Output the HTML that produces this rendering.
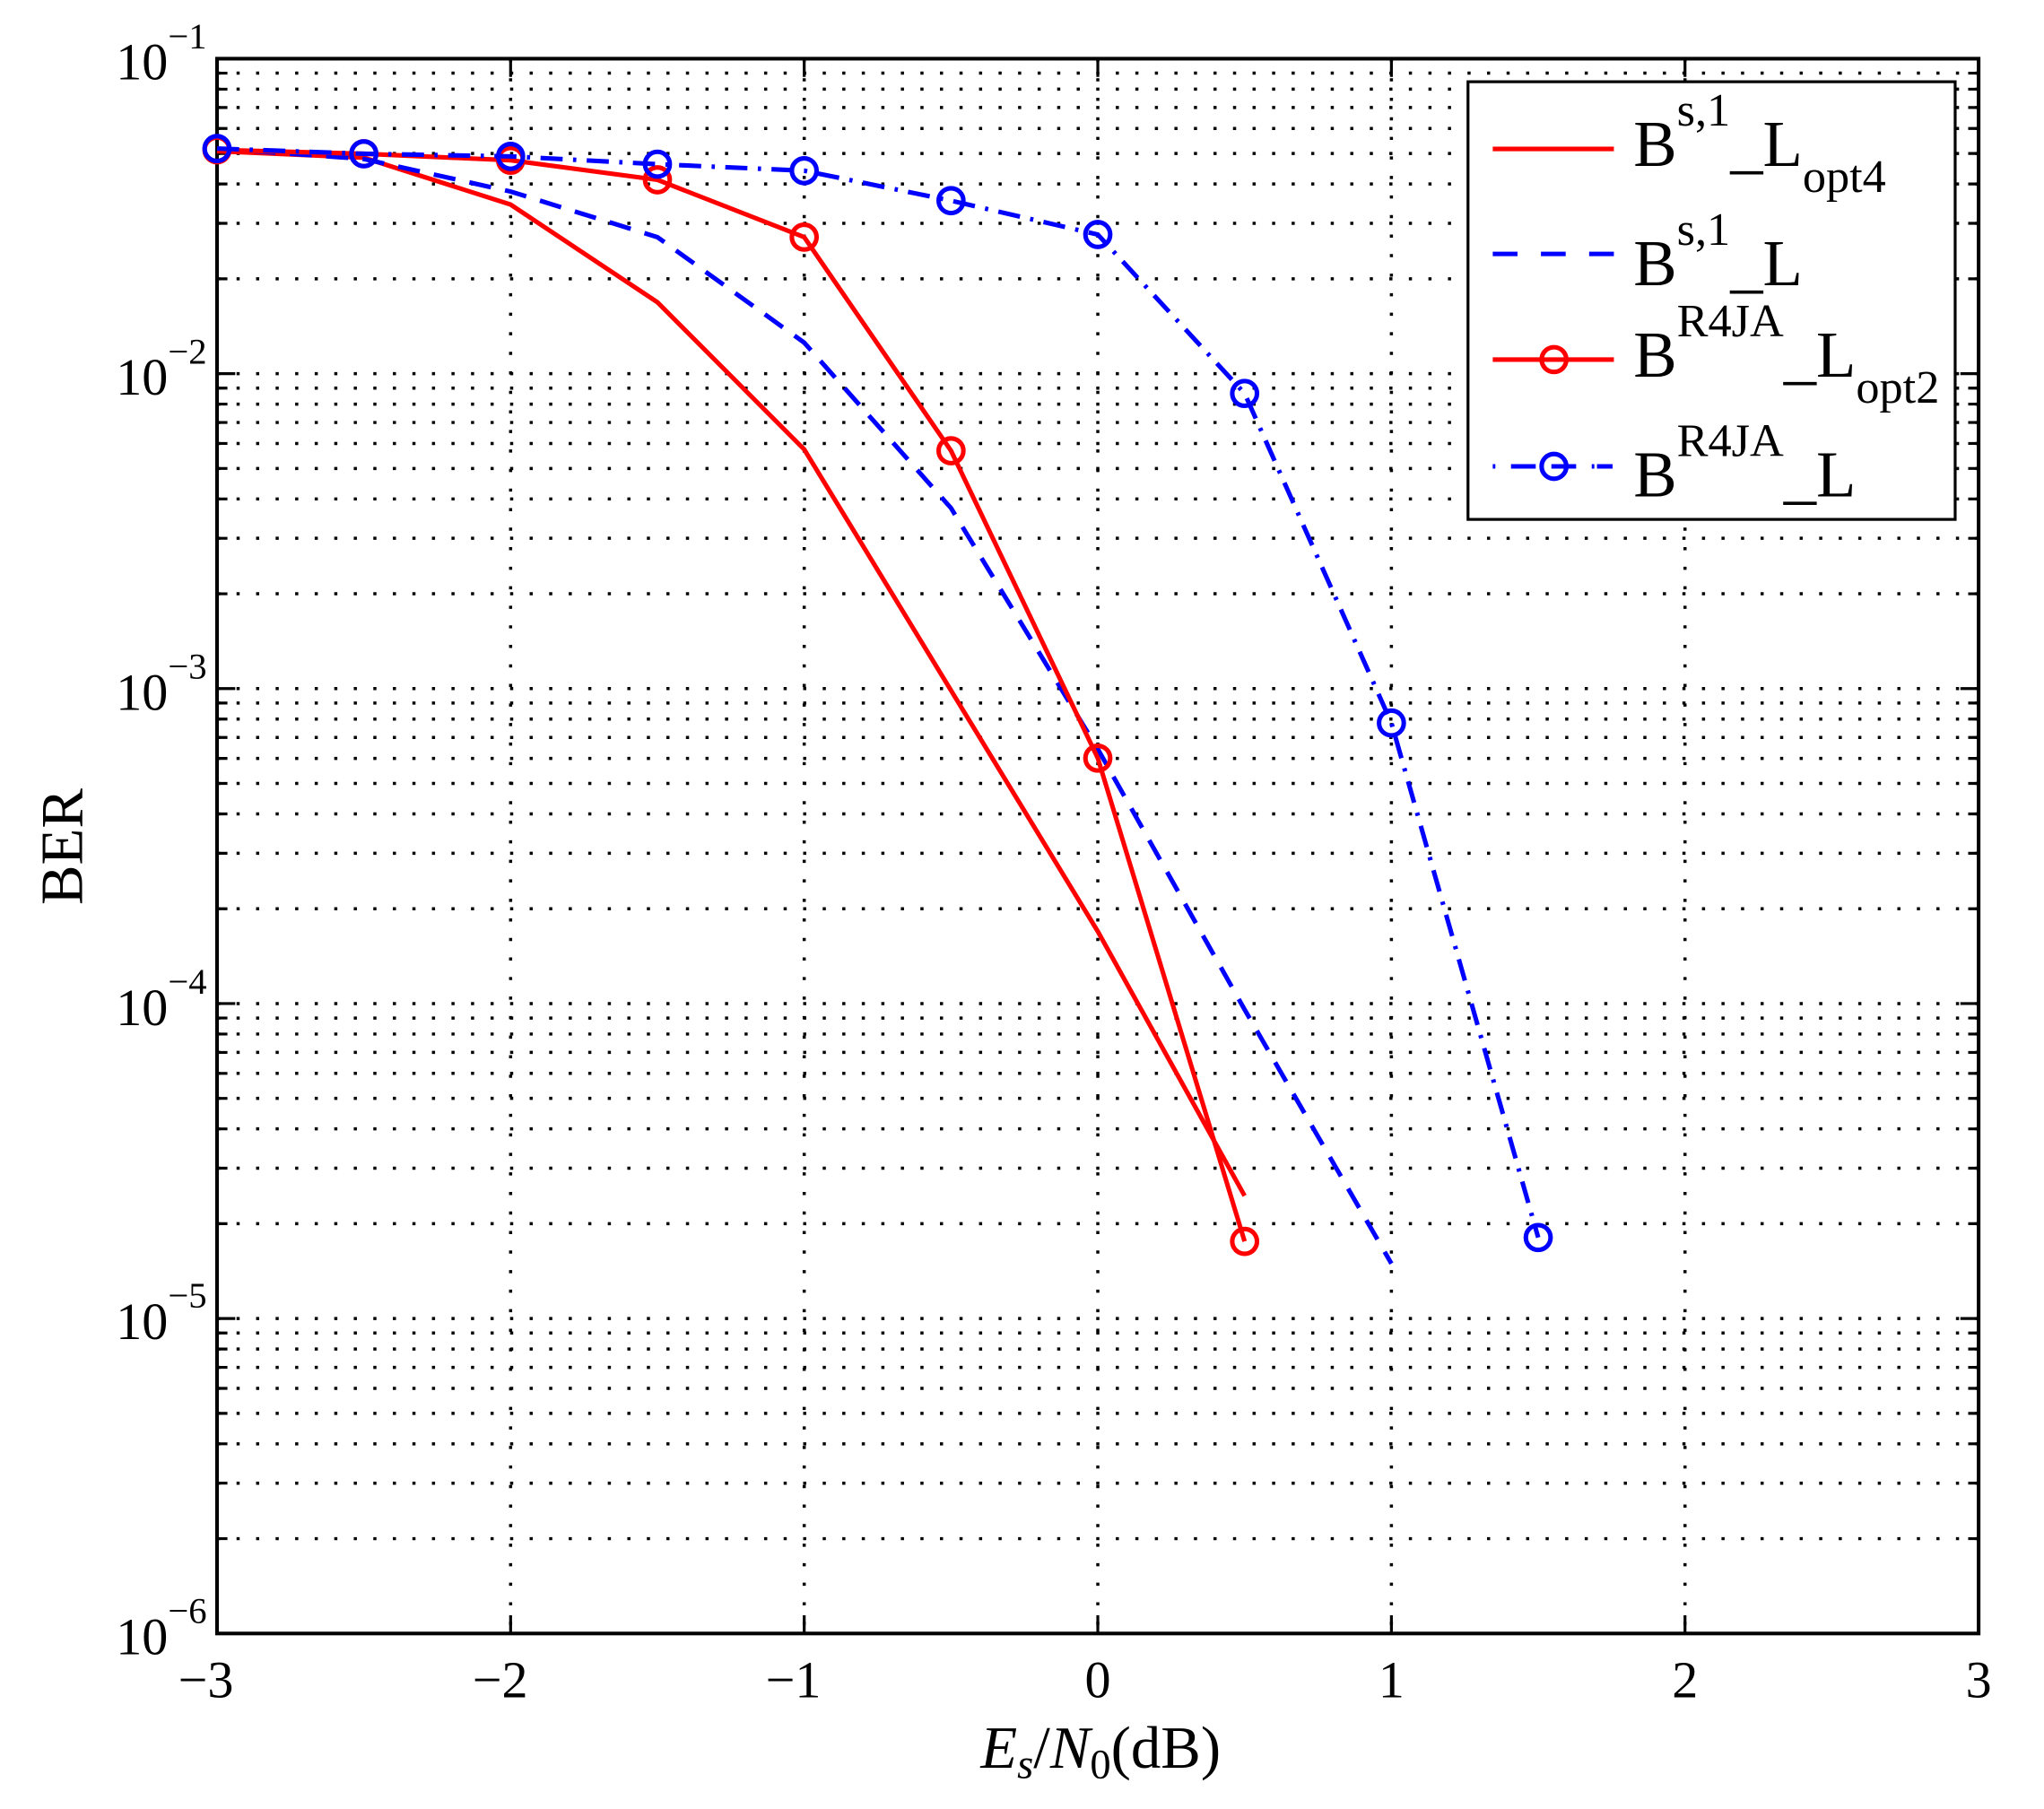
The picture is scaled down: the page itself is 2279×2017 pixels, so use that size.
<!DOCTYPE html>
<html><head><meta charset="utf-8"><style>html,body{margin:0;padding:0;background:#fff}svg{display:block}</style></head>
<body>
<svg width="2279" height="2017" viewBox="0 0 1569.2 1388.7" xmlns="http://www.w3.org/2000/svg" font-family="Liberation Serif, serif">
<rect width="1569.2" height="1388.7" fill="#fff"/>
<defs>
<g id="dec">
  <g stroke="#000" stroke-width="2.4" stroke-dasharray="2.4,12.6" fill="none">
    <line x1="166.6" x2="1519" y1="-72.8" y2="-72.8"/>
    <line x1="166.6" x2="1519" y1="-115.4" y2="-115.4"/>
    <line x1="166.6" x2="1519" y1="-145.6" y2="-145.6"/>
    <line x1="166.6" x2="1519" y1="-169" y2="-169"/>
    <line x1="166.6" x2="1519" y1="-188.2" y2="-188.2"/>
    <line x1="166.6" x2="1519" y1="-204.3" y2="-204.3"/>
    <line x1="166.6" x2="1519" y1="-218.4" y2="-218.4"/>
    <line x1="166.6" x2="1519" y1="-230.7" y2="-230.7"/>
    <line x1="166.6" x2="1519" y1="-241.8" y2="-241.8"/>
  </g>
  <g stroke="#000" stroke-width="2.2">
    <path d="M166.6,-72.8h8M166.6,-115.4h8M166.6,-145.6h8M166.6,-169h8M166.6,-188.2h8M166.6,-204.3h8M166.6,-218.4h8M166.6,-230.7h8M166.6,-241.8h14"/>
    <path d="M1519,-72.8h-8M1519,-115.4h-8M1519,-145.6h-8M1519,-169h-8M1519,-188.2h-8M1519,-204.3h-8M1519,-218.4h-8M1519,-230.7h-8M1519,-241.8h-14"/>
  </g>
</g>
</defs>
<use href="#dec" transform="translate(0,1254)"/>
<use href="#dec" transform="translate(0,1012.2)"/>
<use href="#dec" transform="translate(0,770.4)"/>
<use href="#dec" transform="translate(0,528.6)"/>
<use href="#dec" transform="translate(0,286.8)"/>
<g stroke="#000" stroke-width="2.4" stroke-dasharray="2.4,12.6">
  <line x1="392" x2="392" y1="45" y2="1254"/>
  <line x1="617.4" x2="617.4" y1="45" y2="1254"/>
  <line x1="842.8" x2="842.8" y1="45" y2="1254"/>
  <line x1="1068.2" x2="1068.2" y1="45" y2="1254"/>
  <line x1="1293.6" x2="1293.6" y1="45" y2="1254"/>
</g>
<g stroke="#000" stroke-width="2.2">
  <path d="M392,1254v-14M617.4,1254v-14M842.8,1254v-14M1068.2,1254v-14M1293.6,1254v-14"/>
  <path d="M392,45v14M617.4,45v14M842.8,45v14M1068.2,45v14M1293.6,45v14"/>
</g>
<rect x="166.6" y="45" width="1352.4" height="1209" fill="none" stroke="#000" stroke-width="2.8"/>

<!-- series -->
<polyline fill="none" stroke="#f00" stroke-width="3.5" points="166.6,116 279.3,121 392,157 504.7,232 617.4,345 730.1,530 842.8,715 955.5,918" />
<polyline fill="none" stroke="#00f" stroke-width="3.5" stroke-dasharray="17,11" points="166.6,114 279.3,122 392,147 504.7,182 617.4,263 730.1,390 842.8,575 955.5,775 1068.2,970"/>
<polyline fill="none" stroke="#f00" stroke-width="3.5" points="166.6,115 279.3,118 392,123 504.7,138 617.4,182 730.1,346 842.8,582 955.5,953"/>
<g fill="none" stroke="#f00" stroke-width="3.5">
  <circle cx="166.6" cy="115" r="9.5"/><circle cx="279.3" cy="118" r="9.5"/><circle cx="392" cy="123" r="9.5"/><circle cx="504.7" cy="138" r="9.5"/><circle cx="617.4" cy="182" r="9.5"/><circle cx="730.1" cy="346" r="9.5"/><circle cx="842.8" cy="582" r="9.5"/><circle cx="955.5" cy="953" r="9.5"/>
</g>
<polyline fill="none" stroke="#00f" stroke-width="3.5" stroke-dasharray="17,8,2.5,8" points="166.6,114 279.3,118 392,120 504.7,126 617.4,131 730.1,154 842.8,180 955.5,302 1068.2,555 1180.9,950"/>
<g fill="none" stroke="#00f" stroke-width="3.5">
  <circle cx="166.6" cy="114" r="9.5"/><circle cx="279.3" cy="118" r="9.5"/><circle cx="392" cy="120" r="9.5"/><circle cx="504.7" cy="126" r="9.5"/><circle cx="617.4" cy="131" r="9.5"/><circle cx="730.1" cy="154" r="9.5"/><circle cx="842.8" cy="180" r="9.5"/><circle cx="955.5" cy="302" r="9.5"/><circle cx="1068.2" cy="555" r="9.5"/><circle cx="1180.9" cy="950" r="9.5"/>
</g>

<!-- legend -->
<rect x="1127" y="62.7" width="374" height="336" fill="#fff" stroke="#000" stroke-width="2.2"/>
<line x1="1146" x2="1239" y1="114.3" y2="114.3" stroke="#f00" stroke-width="3.5"/>
<line x1="1146" x2="1239" y1="194.9" y2="194.9" stroke="#00f" stroke-width="3.5" stroke-dasharray="19,18"/>
<line x1="1146" x2="1239" y1="276" y2="276" stroke="#f00" stroke-width="3.5"/>
<circle cx="1193" cy="276" r="9.5" fill="none" stroke="#f00" stroke-width="3.5"/>
<line x1="1146" x2="1239" y1="358" y2="358" stroke="#00f" stroke-width="3.5" stroke-dasharray="2,12,19,12,19,12,2"/>
<circle cx="1193" cy="358" r="9.5" fill="none" stroke="#00f" stroke-width="3.5"/>
<g font-size="50" fill="#000">
  <text x="1254" y="127.4">B<tspan font-size="36" dy="-31">s,1</tspan><tspan dy="31">_L</tspan><tspan font-size="36" dy="20">opt4</tspan></text>
  <text x="1254" y="219">B<tspan font-size="36" dy="-31">s,1</tspan><tspan dy="31">_L</tspan></text>
  <text x="1254" y="289">B<tspan font-size="36" dy="-31">R4JA</tspan><tspan dy="31">_L</tspan><tspan font-size="36" dy="20">opt2</tspan></text>
  <text x="1254" y="381">B<tspan font-size="36" dy="-31">R4JA</tspan><tspan dy="31">_L</tspan></text>
</g>

<!-- tick labels -->
<g font-size="40" fill="#000" text-anchor="middle">
  <text x="158" y="1303">−3</text>
  <text x="384" y="1303">−2</text>
  <text x="609" y="1303">−1</text>
  <text x="842.8" y="1303">0</text>
  <text x="1068.2" y="1303">1</text>
  <text x="1293.6" y="1303">2</text>
  <text x="1519" y="1303">3</text>
</g>
<g font-size="40" fill="#000">
  <text x="89" y="61">10<tspan font-size="28" dy="-24">−1</tspan></text>
  <text x="89" y="303">10<tspan font-size="28" dy="-24">−2</tspan></text>
  <text x="89" y="545">10<tspan font-size="28" dy="-24">−3</tspan></text>
  <text x="89" y="787">10<tspan font-size="28" dy="-24">−4</tspan></text>
  <text x="89" y="1028">10<tspan font-size="28" dy="-24">−5</tspan></text>
  <text x="89" y="1270">10<tspan font-size="28" dy="-24">−6</tspan></text>
</g>
<text x="845" y="1357" font-size="46" text-anchor="middle"><tspan font-style="italic">E</tspan><tspan font-style="italic" font-size="32" dy="8">s</tspan><tspan dy="-8">/</tspan><tspan font-style="italic">N</tspan><tspan font-size="32" dy="8">0</tspan><tspan dy="-8">(dB)</tspan></text>
<text transform="translate(63,650) rotate(-90)" font-size="46" text-anchor="middle">BER</text>
</svg>
</body></html>
